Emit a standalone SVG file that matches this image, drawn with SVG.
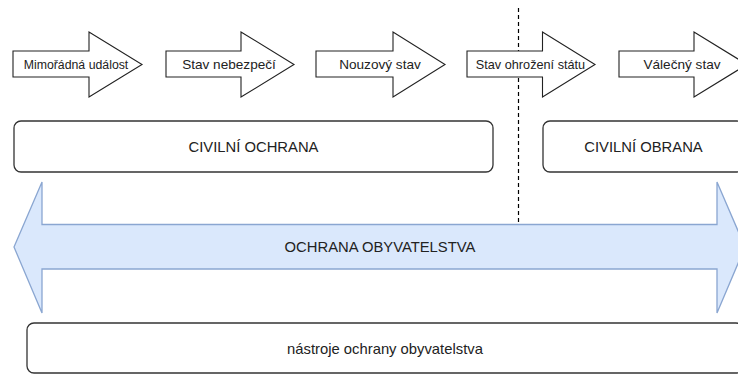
<svg xmlns="http://www.w3.org/2000/svg" width="738" height="374" viewBox="0 0 738 374">
<style>
  .arrow { fill: #ffffff; stroke: #222222; stroke-width: 1.1; }
  .box { fill: #ffffff; stroke: #333333; stroke-width: 1.3; }
  .big { fill: #dae8fc; stroke: #8aa6d1; stroke-width: 1.3; }
  .small { font-family: "Liberation Sans", Arial, sans-serif; font-size: 13.6px; fill: #222222; text-anchor: middle; }
  .label { font-family: "Liberation Sans", Arial, sans-serif; font-size: 14.8px; fill: #222222; text-anchor: middle; }
  .dash { stroke: #000000; stroke-width: 1.2; stroke-dasharray: 4 3; fill: none; }
</style>
<rect x="0" y="0" width="738" height="374" fill="#ffffff"/>
<g id="connectors">
  <line class="dash" x1="518.5" y1="8" x2="518.5" y2="225"/>
</g>
<g id="mimoradna-udalost">
  <path class="arrow" d="M13,51 H89 V32 L142,64.5 L89,97 V77 H13 Z"/>
  <text class="small" x="76" y="68.5" style="font-size:12.3px">Mimořádná událost</text>
</g>
<g id="stav-nebezpeci">
  <path class="arrow" d="M166,51 H241 V32 L294,64.5 L241,97 V77 H166 Z"/>
  <text class="small" x="229" y="68.5">Stav nebezpečí</text>
</g>
<g id="nouzovy-stav">
  <path class="arrow" d="M316,51 H393 V32 L445,64.5 L393,97 V77 H316 Z"/>
  <text class="small" x="380" y="68.5">Nouzový stav</text>
</g>
<g id="stav-ohrozeni-statu">
  <path class="arrow" d="M467,51 H542.5 V32 L595,64.5 L542.5,97 V77 H467 Z"/>
  <text class="small" x="530.5" y="68.5" style="font-size:12.7px">Stav ohrožení státu</text>
</g>
<g id="valecny-stav">
  <path class="arrow" d="M619,51 H694 V32 L747,64.5 L694,97 V77 H619 Z"/>
  <text class="small" x="682" y="68.5">Válečný stav</text>
</g>
<g id="civilni-ochrana">
  <rect class="box" x="14" y="121" width="479" height="51" rx="7" ry="7"/>
  <text class="label" x="253.5" y="152">CIVILNÍ OCHRANA</text>
</g>
<g id="civilni-obrana">
  <rect class="box" x="543" y="121" width="201" height="51" rx="7" ry="7"/>
  <text class="label" x="643.5" y="152">CIVILNÍ OBRANA</text>
</g>
<g id="ochrana-obyvatelstva">
  <path class="big" d="M14,247 L42,182 V224.5 H717 V182 L745,247 L717,313 V269 H42 V313 Z"/>
  <text class="label" x="380" y="252">OCHRANA OBYVATELSTVA</text>
</g>
<g id="nastroje">
  <rect class="box" x="27" y="323" width="716" height="50" rx="7" ry="7"/>
  <text class="label" x="385" y="353.5">nástroje ochrany obyvatelstva</text>
</g>
</svg>
